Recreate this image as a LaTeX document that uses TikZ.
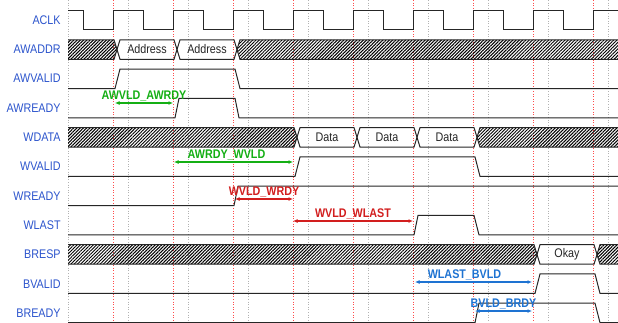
\documentclass[tikz,border=0pt]{standalone}
\usepackage{fontspec}
\setmainfont[FakeStretch=0.86]{Liberation Sans}
\usetikzlibrary{patterns.meta,arrows.meta}
\definecolor{sigblue}{RGB}{45,85,205}
\definecolor{dlygreen}{RGB}{20,175,20}
\definecolor{dlyred}{RGB}{210,30,30}
\definecolor{dlyblue}{RGB}{30,115,210}

\begin{document}
\begin{tikzpicture}[x=1pt,y=-1pt,thick,>={Latex[length=4.5pt,width=4pt]}]
        %
        % `signame' is used for the signal names on the left.
        % `wave' is used for all the traces, `hatch' for don't-care bus values.
        % `delay' and `delayname' are used for the timing arrows.
        \tikzstyle{signame} = [anchor=east,inner sep=0pt,text=sigblue,font=\fontsize{12.5}{14}\selectfont]
        \tikzstyle{wave} = [line width=1pt,draw=black!85]
        \tikzstyle{hatch} = [pattern={Lines[angle=45,distance=2.3pt,line width=1pt]}]
        \tikzstyle{busval} = [inner sep=0pt,text=black!85,font=\fontsize{12.5}{14}\selectfont]
        \tikzstyle{delay} = [line width=1.3pt,<->]
        \tikzstyle{delayname} = [midway,above,inner sep=1pt,font=\bfseries\fontsize{12.5}{14}\selectfont]
        %
        % Background
        \path[use as bounding box,fill=white] (0,0) rectangle (618,322);
        %
        % Grid
        \foreach \x in {68,128,...,608}
          \draw[black!30,dotted,line width=0.6pt] (\x,0) -- (\x,322);
        \foreach \x in {113,173,...,593}
          \draw[red!70,dotted,line width=0.6pt] (\x,0) -- (\x,322);
        %
        % Signal names
        \node[signame] (aclk) at (61,20) {ACLK};
        \node[signame] (awaddr) at (61,49.5) {AWADDR};
        \node[signame] (awvalid) at (61,78.5) {AWVALID};
        \node[signame] (awready) at (61,107.8) {AWREADY};
        \node[signame] (wdata) at (61,137.3) {WDATA};
        \node[signame] (wvalid) at (61,166.6) {WVALID};
        \node[signame] (wready) at (61,195.9) {WREADY};
        \node[signame] (wlast) at (61,225.2) {WLAST};
        \node[signame] (bresp) at (61,254.5) {BRESP};
        \node[signame] (bvalid) at (61,283.7) {BVALID};
        \node[signame] (bready) at (61,313) {BREADY};
        %
        % ACLK
        \draw[wave] (68,10) -- (83,10) \foreach \x in {83,143,...,563}
          { -- (\x,29.5) -- (\x+30,29.5) -- (\x+30,10) -- ({min(\x+60,618)},10) };
        %
        % AWADDR
        \path[hatch] (68,39.8) -- (114,39.8) -- (117,49.5) -- (114,59.3) -- (68,59.3) -- cycle;
        \draw[wave] (68,39.8) -- (114,39.8) -- (117,49.5) -- (114,59.3) -- (68,59.3);
        \draw[wave] (117,49.5) -- (120,39.8) -- (174,39.8) -- (177,49.5) -- (174,59.3) -- (120,59.3) -- cycle;
        \draw[wave] (177,49.5) -- (180,39.8) -- (234,39.8) -- (237,49.5) -- (234,59.3) -- (180,59.3) -- cycle;
        \path[hatch] (237,49.5) -- (240,39.8) -- (618,39.8) -- (618,59.3) -- (240,59.3) -- cycle;
        \draw[wave] (618,39.8) -- (240,39.8) -- (237,49.5) -- (240,59.3) -- (618,59.3);
        \node[busval] (addr1) at (147,49.5) {Address};
        \node[busval] (addr2) at (207,49.5) {Address};
        %
        % AWVALID, AWREADY
        \draw[wave] (68,88.5) -- (115,88.5) -- (120,69) -- (235,69) -- (240,88.5) -- (618,88.5);
        \draw[wave] (68,117.8) -- (175,117.8) -- (179,98.3) -- (235,98.3) -- (239,117.8) -- (618,117.8);
        %
        % WDATA
        \path[hatch] (68,127.6) -- (294,127.6) -- (297,137.3) -- (294,147.1) -- (68,147.1) -- cycle;
        \draw[wave] (68,127.6) -- (294,127.6) -- (297,137.3) -- (294,147.1) -- (68,147.1);
        \draw[wave] (297,137.3) -- (300,127.6) -- (354,127.6) -- (357,137.3) -- (354,147.1) -- (300,147.1) -- cycle;
        \draw[wave] (357,137.3) -- (360,127.6) -- (414,127.6) -- (417,137.3) -- (414,147.1) -- (360,147.1) -- cycle;
        \draw[wave] (417,137.3) -- (420,127.6) -- (474,127.6) -- (477,137.3) -- (474,147.1) -- (420,147.1) -- cycle;
        \path[hatch] (477,137.3) -- (480,127.6) -- (618,127.6) -- (618,147.1) -- (480,147.1) -- cycle;
        \draw[wave] (618,127.6) -- (480,127.6) -- (477,137.3) -- (480,147.1) -- (618,147.1);
        \node[busval] (data1) at (327,137.3) {Data};
        \node[busval] (data2) at (387,137.3) {Data};
        \node[busval] (data3) at (447,137.3) {Data};
        %
        % WVALID, WREADY, WLAST
        \draw[wave] (68,176.4) -- (295,176.4) -- (300,156.9) -- (475,156.9) -- (480,176.4) -- (618,176.4);
        \draw[wave] (68,205.6) -- (234,205.6) -- (238,186.1) -- (618,186.1);
        \draw[wave] (68,234.9) -- (414,234.9) -- (418,215.4) -- (474,215.4) -- (479,234.9) -- (618,234.9);
        %
        % BRESP
        \path[hatch] (68,244.7) -- (534,244.7) -- (537,254.5) -- (534,264.2) -- (68,264.2) -- cycle;
        \draw[wave] (68,244.7) -- (534,244.7) -- (537,254.5) -- (534,264.2) -- (68,264.2);
        \draw[wave] (537,254.5) -- (540,244.7) -- (594,244.7) -- (597,254.5) -- (594,264.2) -- (540,264.2) -- cycle;
        \path[hatch] (597,254.5) -- (600,244.7) -- (618,244.7) -- (618,264.2) -- (600,264.2) -- cycle;
        \draw[wave] (618,244.7) -- (600,244.7) -- (597,254.5) -- (600,264.2) -- (618,264.2);
        \node[busval] (okay) at (567,254.5) {Okay};
        %
        % BVALID, BREADY
        \draw[wave] (68,293.4) -- (535,293.4) -- (540,273.9) -- (595,273.9) -- (600,293.4) -- (618,293.4);
        \draw[wave] (68,322.7) -- (475,322.7) -- (479,303.2) -- (595,303.2) -- (600,322.7) -- (618,322.7);
        %
        % Timing arrows
        \coordinate (awvld1) at (115,103);
        \coordinate (awrdy1) at (173,103);
        \draw[delay,dlygreen] (awvld1) -- (awrdy1) node[delayname] (awvldawrdy) {AWVLD\_AWRDY};
        \coordinate (awrdy2) at (174,162);
        \coordinate (wvld2) at (293,162);
        \draw[delay,dlygreen] (awrdy2) -- (wvld2) node[delayname,xshift=-7pt] (awrdywvld) {AWRDY\_WVLD};
        \coordinate (wvld3) at (235,199);
        \coordinate (wrdy3) at (293,199);
        \draw[delay,dlyred] (wvld3) -- (wrdy3) node[delayname] (wvldwrdy) {WVLD\_WRDY};
        \coordinate (wvld4) at (293,221);
        \coordinate (wlast4) at (413,221);
        \draw[delay,dlyred] (wvld4) -- (wlast4) node[delayname] (wvldwlast) {WVLD\_WLAST};
        \coordinate (wlast5) at (415,282);
        \coordinate (bvld5) at (532,282);
        \draw[delay,dlyblue] (wlast5) -- (bvld5) node[delayname,xshift=-9pt] (wlastbvld) {WLAST\_BVLD};
        \coordinate (bvld6) at (475,311);
        \coordinate (brdy6) at (532,311);
        \draw[delay,dlyblue] (bvld6) -- (brdy6) node[delayname] (bvldbrdy) {BVLD\_BRDY};
        %
\end{tikzpicture}
\end{document}
